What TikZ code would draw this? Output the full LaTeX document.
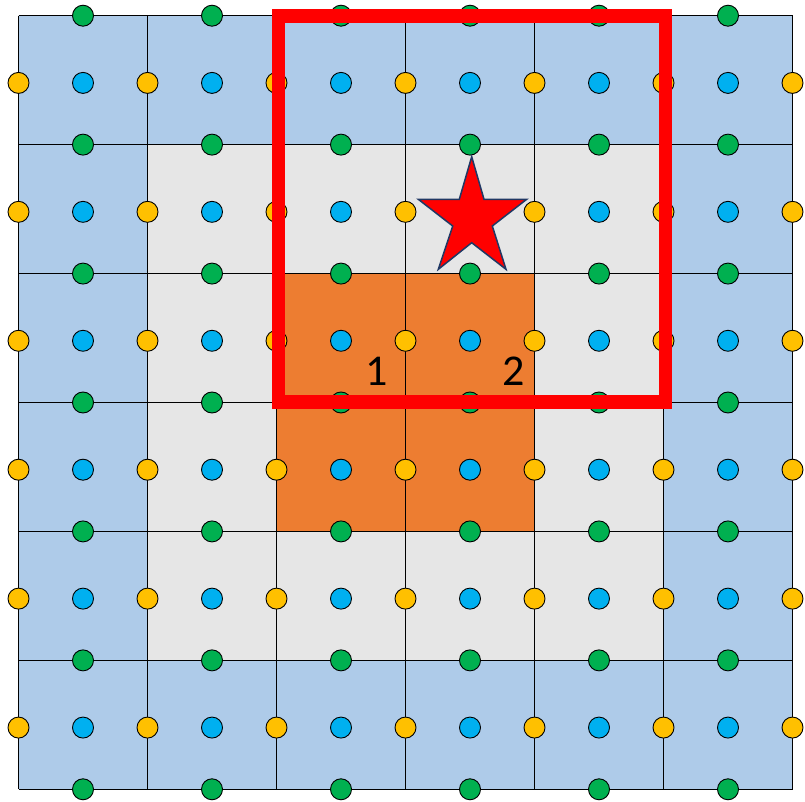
\documentclass[tikz,border=0pt]{standalone}
\usepackage{fontspec}
\setmainfont{Carlito}
\definecolor{cellblue}{HTML}{AECBE9}
\definecolor{cellgray}{HTML}{E6E6E6}
\definecolor{cellorange}{HTML}{ED7D31}
\definecolor{dotblue}{HTML}{00B0F0}
\definecolor{dotyellow}{HTML}{FFC000}
\definecolor{dotgreen}{HTML}{00B050}
\definecolor{starline}{HTML}{203864}
\tikzset{
  gridline/.style={draw=black, line width=1pt},
  dotbase/.style={draw=black, line width=0.9pt},
  bluedot/.style={dotbase, fill=dotblue},
  yellowdot/.style={dotbase, fill=dotyellow},
  greendot/.style={dotbase, fill=dotgreen},
  redframe/.style={draw=red, line width=13.3pt},
  starshape/.style={fill=red, draw=starline, line width=1.5pt},
  numlabel/.style={font=\fontsize{44}{48}\selectfont, text=black, inner sep=0pt}
}
\def\GX{18.5}
\def\GY{15.7}
\def\CW{129}
\def\CH{128.93}
\begin{document}
\begin{tikzpicture}[x=1pt,y=-1pt]
\useasboundingbox (0,0) rectangle (805,801);
% cells
\fill[cellblue] (\GX,\GY) rectangle ++(774,773.6);
\fill[cellgray] (\GX+\CW,\GY+\CH) rectangle ++(4*\CW,4*\CH);
\fill[cellorange] (\GX+2*\CW,\GY+2*\CH) rectangle ++(2*\CW,2*\CH);
% grid lines
\foreach \i in {0,...,6}{
  \draw[gridline] (\GX+\i*\CW,\GY) -- ++(0,773.6);
  \draw[gridline] (\GX,\GY+\i*\CH) -- ++(774,0);
}
% green dots on horizontal lines
\foreach \j in {0,...,6}{
  \foreach \i in {0,...,5}{
    \path[greendot] (\GX+\i*\CW+64.5,\GY+\j*\CH) circle[radius=10.5pt];
  }
}
% yellow dots on vertical lines
\foreach \j in {0,...,5}{
  \foreach \i in {0,...,6}{
    \path[yellowdot] (\GX+\i*\CW,\GY+\j*\CH+67.2) circle[radius=10.5pt];
  }
}
% blue dots at cell centres
\foreach \j in {0,...,5}{
  \foreach \i in {0,...,5}{
    \path[bluedot] (\GX+\i*\CW+64.5,\GY+\j*\CH+67.2) circle[radius=10.5pt];
  }
}
% labels
\node[numlabel] (one) at (376.7,371.7) {1};
\node[numlabel] (two) at (513.3,371.7) {2};
% star
\path[starshape] (471.7,156.7) -- (484,199.3) -- (526.7,199.3) -- (492.3,226)
  -- (506,269.3) -- (471.7,242.7) -- (438.3,269.3) -- (452.7,226)
  -- (418.3,199.3) -- (459.3,199.3) -- cycle;
% red frame
\draw[redframe] (278.3,16) rectangle (665.7,402);
\end{tikzpicture}
\end{document}
